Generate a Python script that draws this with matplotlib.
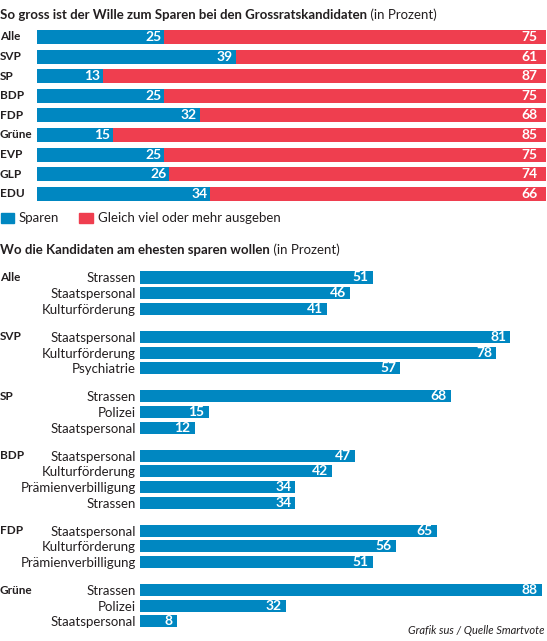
import matplotlib
matplotlib.use("Agg")
import matplotlib.pyplot as plt
import matplotlib.transforms as mtrans
from matplotlib.patches import Rectangle
from matplotlib import font_manager

# --- data -------------------------------------------------------------
parties = ["Alle", "SVP", "SP", "BDP", "FDP", "Grüne", "EVP", "GLP", "EDU"]
sparen = [25, 39, 13, 25, 32, 15, 25, 26, 34]
mehr = [75, 61, 87, 75, 68, 85, 75, 74, 66]

groups = ["Alle", "SVP", "SP", "BDP", "FDP", "Grüne"]
areas = [
    ["Strassen", "Staatspersonal", "Kulturförderung"],
    ["Staatspersonal", "Kulturförderung", "Psychiatrie"],
    ["Strassen", "Polizei", "Staatspersonal"],
    ["Staatspersonal", "Kulturförderung", "Prämienverbilligung", "Strassen"],
    ["Staatspersonal", "Kulturförderung", "Prämienverbilligung"],
    ["Strassen", "Polizei", "Staatspersonal"],
]
area_values = [
    [51, 46, 41],
    [81, 78, 57],
    [68, 15, 12],
    [47, 42, 34, 34],
    [65, 56, 51],
    [88, 32, 8],
]

# --- style ------------------------------------------------------------
available = set(f.name for f in font_manager.fontManager.ttflist)
FONT = "Lato" if "Lato" in available else "DejaVu Sans"
plt.rcParams["font.family"] = [FONT, "DejaVu Sans"]

BLUE = "#0087c1"
RED = "#ef3e4f"
INK = "#231f20"

W, H = 547, 641
fig = plt.figure(figsize=(W / 100, H / 100), dpi=100)
fig.patch.set_facecolor("white")


def fx(px):
    return px / W


def fy(py):
    return 1 - py / H


# --- top chart: stacked bars -------------------------------------------
row_px = 19.6
top_first = 37.0
ax1 = fig.add_axes([fx(37), fy(top_first + row_px * 8.5), fx(546) - fx(37),
                    (row_px * 9) / H])
ypos = list(range(len(parties)))
ax1.barh(ypos, sparen, height=0.72, color=BLUE)
ax1.barh(ypos, mehr, left=sparen, height=0.72, color=RED)
ax1.set_xlim(0, 100)
ax1.set_ylim(len(parties) - 0.5, -0.5)
ax1.axis("off")

for y, s, m in zip(ypos, sparen, mehr):
    ax1.annotate(str(s), (s, y), xytext=(-2, 0), textcoords="offset points",
                 ha="right", va="center", color="white", fontsize=10,
                 fontweight="bold")
    ax1.annotate(str(m), (s + m, y), xytext=(-6, 0), textcoords="offset points",
                 ha="right", va="center", color="white", fontsize=10,
                 fontweight="bold")

lab1 = mtrans.blended_transform_factory(fig.transFigure, ax1.transData)
for y, p in zip(ypos, parties):
    ax1.text(0.0, y, p, transform=lab1, ha="left", va="center", color=INK,
             fontsize=8.5, fontweight="bold")

t1 = fig.text(0.0, fy(15), "So gross ist der Wille zum Sparen bei den Grossratskandidaten",
              ha="left", va="center", color=INK, fontsize=9.5, fontweight="bold")
ax1.annotate(" (in Prozent)", xy=(1, 0.5), xycoords=t1, ha="left", va="center",
             color=INK, fontsize=9.5, annotation_clip=False)

# legend
fig.add_artist(Rectangle((fx(1), fy(222.5)), fx(13), 10 / H,
                         transform=fig.transFigure, color=BLUE))
fig.text(fx(19), fy(217.5), "Sparen", ha="left", va="center", color=INK,
         fontsize=9.5)
fig.add_artist(Rectangle((fx(79), fy(222.5)), fx(14), 10 / H,
                         transform=fig.transFigure, color=RED))
fig.text(fx(98), fy(217.5), "Gleich viel oder mehr ausgeben", ha="left",
         va="center", color=INK, fontsize=9.5)

# --- bottom chart: grouped bars -----------------------------------------
gap = 0.81
pos = []
labels = []
vals = []
group_start = []
y = 0.0
for gi, (names, vs) in enumerate(zip(areas, area_values)):
    if gi > 0:
        y += gap
    group_start.append(y)
    for n, v in zip(names, vs):
        pos.append(y)
        labels.append(n)
        vals.append(v)
        y += 1
last = pos[-1]

pitch = 15.6
first_px = 277.5
x0_px, x1_px = 140.0, 546.0
px_per_unit = 4.57
ax2 = fig.add_axes([fx(x0_px), fy(first_px + pitch * (last + 0.5)),
                    fx(x1_px) - fx(x0_px), pitch * (last + 1) / H])
ax2.barh(pos, vals, height=0.77, color=BLUE)
ax2.set_xlim(0, (x1_px - x0_px) / px_per_unit)
ax2.set_ylim(last + 0.5, -0.5)
for s in ax2.spines.values():
    s.set_visible(False)
ax2.set_xticks([])
ax2.set_yticks(pos)
ax2.set_yticklabels(labels, fontsize=9.5, color=INK)
ax2.tick_params(axis="y", length=0, pad=3)

for p, v in zip(pos, vals):
    ax2.annotate(str(v), (v, p), xytext=(-3, 0), textcoords="offset points",
                 ha="right", va="center", color="white", fontsize=10,
                 fontweight="bold")

lab2 = mtrans.blended_transform_factory(fig.transFigure, ax2.transData)
for g, gy in zip(groups, group_start):
    ax2.text(0.0, gy, g, transform=lab2, ha="left", va="center", color=INK,
             fontsize=8.5, fontweight="bold")

t2 = fig.text(0.0, fy(250), "Wo die Kandidaten am ehesten sparen wollen",
              ha="left", va="center", color=INK, fontsize=9.5, fontweight="bold")
ax2.annotate(" (in Prozent)", xy=(1, 0.5), xycoords=t2, ha="left", va="center",
             color=INK, fontsize=9.5, annotation_clip=False)

fig.text(fx(545), fy(631), "Grafik sus / Quelle Smartvote", ha="right",
         va="center", color=INK, fontsize=8, style="italic")

fig.savefig("out.png", dpi=100, facecolor="white")
